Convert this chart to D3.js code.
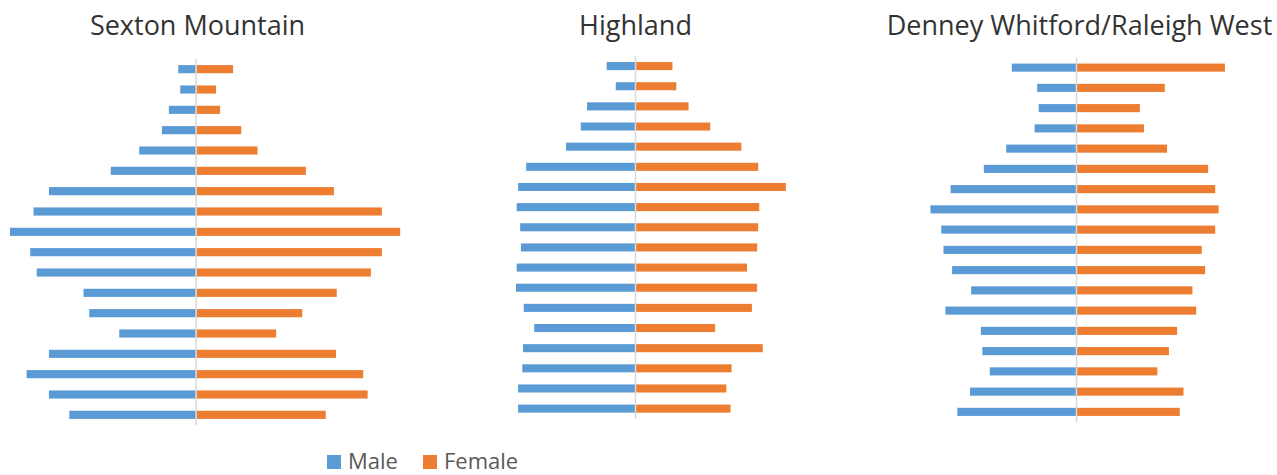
<!DOCTYPE html>
<html>
<head>
    <script src="https://d3js.org/d3.v7.min.js"></script>
    <style>
        body { margin: 0; background: #fff; }
    </style>
</head>
<body>
    <svg width="1277" height="475"></svg>
    <script>

        // age groups, listed top to bottom as drawn
        var ageGroups = ["85+", "80-84", "75-79", "70-74", "65-69", "60-64", "55-59", "50-54", "45-49",
                         "40-44", "35-39", "30-34", "25-29", "20-24", "15-19", "10-14", "5-9", "0-4"];

        var titles = ["Sexton Mountain", "Highland", "Denney Whitford/Raleigh West"];

        // share of the area's population, in %
        var sextonMale   = [0.43, 0.38, 0.66, 0.83, 1.39, 2.09, 3.61, 3.99, 4.57, 4.07, 3.91, 2.76, 2.62, 1.88, 3.61, 4.16, 3.61, 3.11];
        var sextonFemale = [0.92, 0.50, 0.60, 1.12, 1.52, 2.71, 3.40, 4.58, 5.03, 4.58, 4.31, 3.47, 2.62, 1.98, 3.45, 4.12, 4.23, 3.20];

        var highlandMale   = [0.81, 0.55, 1.37, 1.55, 1.97, 3.11, 3.34, 3.38, 3.28, 3.26, 3.38, 3.40, 3.18, 2.88, 3.20, 3.22, 3.34, 3.34];
        var highlandFemale = [1.07, 1.18, 1.53, 2.15, 3.04, 3.52, 4.31, 3.55, 3.52, 3.49, 3.20, 3.49, 3.34, 2.29, 3.65, 2.76, 2.61, 2.73];

        var denneyMale   = [1.72, 1.04, 1.00, 1.11, 1.87, 2.47, 3.36, 3.90, 3.61, 3.55, 3.32, 2.81, 3.50, 2.55, 2.51, 2.31, 2.84, 3.18];
        var denneyFemale = [3.99, 2.38, 1.71, 1.82, 2.44, 3.54, 3.73, 3.82, 3.73, 3.37, 3.46, 3.12, 3.22, 2.71, 2.49, 2.18, 2.88, 2.78];

        var seriesNames = ["Male", "Female"];
        var colors = ["#5B9BD5", "#ED7D31"];

        var maleData = [sextonMale, highlandMale, denneyMale];
        var femaleData = [sextonFemale, highlandFemale, denneyFemale];

        // where each panel sits (axis x, px per %, plot top/bottom, title x)
        var layout = [
            {cx: 195.7, k: 40.65, top: 59,   bottom: 425,   titleX: 197.5},
            {cx: 635,   k: 35.0,  top: 56,   bottom: 418.7, titleX: 635.5},
            {cx: 1076,  k: 37.32, top: 57.5, bottom: 422,   titleX: 1079.5}
        ];

        var svg = d3.select("svg");

        titles.forEach(function(title, i) {
            var L = layout[i];
            var g = svg.append("g");

            var x = d3.scaleLinear()
                      .domain([-6, 6])
                      .range([L.cx - 6 * L.k, L.cx + 6 * L.k]);

            var y = d3.scaleBand()
                      .domain(ageGroups)
                      .range([L.top, L.bottom])
                      .paddingInner(0.6)
                      .paddingOuter(0.3);

            g.append("text")
             .attr("x", L.titleX)
             .attr("y", 35)
             .attr("text-anchor", "middle")
             .style("font-family", "Open Sans")
             .style("font-size", "27px")
             .style("fill", "#333333")
             .text(title);

            g.selectAll(".male")
             .data(maleData[i])
             .enter().append("rect")
             .attr("x", function(d) { return x(-d); })
             .attr("y", function(d, j) { return y(ageGroups[j]); })
             .attr("width", function(d) { return x(0) - x(-d); })
             .attr("height", y.bandwidth())
             .attr("fill", colors[0]);

            g.selectAll(".female")
             .data(femaleData[i])
             .enter().append("rect")
             .attr("x", x(0))
             .attr("y", function(d, j) { return y(ageGroups[j]); })
             .attr("width", function(d) { return x(d) - x(0); })
             .attr("height", y.bandwidth())
             .attr("fill", colors[1]);

            // vertical axis line
            g.append("line")
             .attr("x1", x(0) + 0.5).attr("x2", x(0) + 0.5)
             .attr("y1", L.top).attr("y2", L.bottom)
             .attr("stroke", "#D9D9D9")
             .attr("stroke-width", 1.5);
        });

        // legend
        var legend = svg.append("g").attr("transform", "translate(327,455)");
        var legendX = [0, 96];

        seriesNames.forEach(function(name, i) {
            legend.append("rect")
                  .attr("x", legendX[i]).attr("y", 0)
                  .attr("width", 14).attr("height", 14)
                  .attr("fill", colors[i]);
            legend.append("text")
                  .attr("x", legendX[i] + 21)
                  .attr("y", 13.5)
                  .style("font-family", "Open Sans")
                  .style("font-size", "22px")
                  .style("fill", "#595959")
                  .text(name);
        });

    </script>
</body>
</html>
